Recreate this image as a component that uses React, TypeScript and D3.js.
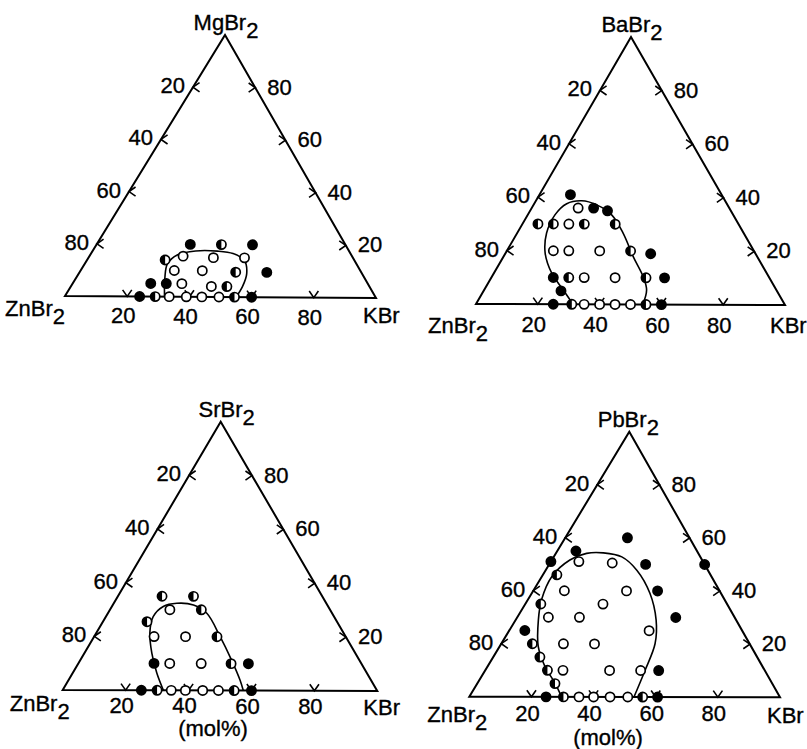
import React from 'react';
import * as d3 from 'd3';

// each point: [KBr mol%, MBr2 mol%, kind]  (ZnBr2 is the rest)
type Kind = 'open' | 'half' | 'filled';
type Pt = [number, number, Kind];
type XY = [number, number];

const tickValues = [20, 40, 60, 80];

const mgPoints: Pt[] = [
  [24, 0, 'filled'], [29, 0, 'half'], [33.5, 0, 'open'], [39, 0, 'open'],
  [44, 0, 'open'], [49.5, 0, 'open'], [54.5, 0, 'half'], [60, 0, 'filled'],
  [25, 5, 'filled'], [30, 5, 'filled'], [35, 5, 'open'], [45, 4, 'open'], [50, 4, 'half'],
  [30, 10, 'open'], [39, 10, 'open'], [50, 9.5, 'half'], [60, 9.5, 'filled'],
  [25, 14, 'half'], [30, 15.5, 'open'], [40, 15, 'open'], [50, 15, 'open'],
  [30, 20, 'filled'], [40, 20, 'half'], [50, 20, 'filled'],
];
const mgBoundary: XY[] = [
  [32, 0], [28.5, 7], [26.5, 12.5], [28, 16], [33, 17.5], [40, 17.5],
  [45.5, 16.6], [50.5, 14], [53.8, 9], [55, 4], [55, 0],
];

const baPoints: Pt[] = [
  [25, 0, 'filled'], [31, 0, 'half'], [35, 0, 'open'], [40, 0, 'open'],
  [45, 0, 'open'], [50, 0, 'open'], [55, 0, 'half'], [60, 0, 'filled'],
  [25, 5, 'filled'],
  [20, 10, 'filled'], [25, 10, 'half'], [30, 10, 'open'], [40, 10, 'open'], [50, 10, 'half'], [56, 10, 'filled'],
  [15, 20, 'open'], [20, 20, 'open'], [30, 20, 'open'], [40, 20, 'half'], [47, 19, 'filled'],
  [5, 30, 'half'], [10, 30, 'half'], [15, 30, 'open'], [20, 30, 'half'], [30, 30, 'half'],
  [15, 36, 'open'], [20, 36, 'filled'], [25, 35, 'filled'],
  [10, 41, 'filled'],
];
const baBoundary: XY[] = [
  [31.4, 0], [25.5, 5.4], [18.6, 11.7], [12.8, 19.1], [9.5, 26.6], [8.8, 33.5],
  [10.5, 37.6], [14.8, 38.7], [20.4, 37.2], [27.1, 33.5], [34.3, 26.6],
  [41.9, 17.9], [48.9, 10.4], [52.5, 5.4], [54, 0],
];

const srPoints: Pt[] = [
  [25, 0, 'filled'], [30, 0, 'half'], [34.5, 0, 'open'], [39, 0, 'open'],
  [44.5, 0, 'open'], [49.5, 0, 'open'], [54.5, 0, 'half'], [60, 0, 'filled'],
  [24, 10, 'filled'], [29, 10, 'open'], [39, 10, 'open'], [48.5, 10, 'half'], [54, 10, 'filled'],
  [19, 20, 'open'], [29, 20, 'open'], [39, 20, 'half'],
  [14, 25.5, 'half'],
  [19, 30, 'open'], [29, 30, 'half'],
  [14, 35, 'half'], [24, 35, 'half'],
];
const srBoundary: XY[] = [
  [32, 0], [26.7, 6.4], [21.4, 13.8], [17, 21.3], [15, 27.4], [16.3, 31.2],
  [20, 32.4], [25.6, 31.8], [31.4, 28.7], [40, 20], [48, 11.3], [54.4, 3.9], [57.4, 0],
];

const pbPoints: Pt[] = [
  [24.7, 0, 'filled'], [30.3, 0, 'half'], [35.3, 0, 'open'], [40, 0, 'open'],
  [45.3, 0, 'open'], [51, 0, 'open'], [55.8, 0, 'half'], [60.6, 0, 'filled'],
  [25, 5, 'half'],
  [20, 10, 'half'], [25, 10, 'open'], [40, 10, 'open'], [50, 10, 'open'], [55.8, 10, 'filled'],
  [15, 15, 'half'],
  [10, 20, 'half'], [20, 20, 'open'], [30, 20, 'open'],
  [5, 25, 'filled'], [45, 25, 'open'],
  [10, 30, 'open'], [20, 30, 'open'], [51, 30, 'filled'],
  [5, 35, 'half'], [25, 35, 'open'],
  [10, 40, 'open'], [30, 40, 'open'], [40, 40, 'filled'],
  [4.5, 46, 'half'],
  [0, 51, 'filled'], [9, 51, 'open'], [20, 50.5, 'open'], [31, 50, 'filled'], [50, 50, 'filled'],
  [6, 55, 'filled'],
  [20, 60, 'filled'],
];
const pbBoundary: XY[] = [
  [29.7, 0], [25, 5.1], [18.5, 11.4], [12.4, 19], [7.3, 29], [4.4, 36.6],
  [3.2, 45.4], [5.8, 51.6], [9.9, 54.1], [15.2, 54.3], [21.9, 52.8], [29.3, 47.8],
  [38, 39.1], [45.2, 29], [49.4, 20.2], [51.4, 10], [53, 0],
];

// panel layout: triangle corners in page pixels and label offsets
const panels = [
  { apex: 'MgBr', points: mgPoints, boundary: mgBoundary,
    zn: [65, 296], kb: [376, 298], ap: [225, 35], apDx: 1,
    znLab: [0, 20], kbLab: [-13, 25], botDy: 27, mol: null as null | number[] },
  { apex: 'BaBr', points: baPoints, boundary: baBoundary,
    zn: [476, 304], kb: [785, 305], ap: [631, 37], apDx: 1,
    znLab: [12, 29], kbLab: [-15, 28], botDy: 28, mol: null },
  { apex: 'SrBr', points: srPoints, boundary: srBoundary,
    zn: [62.7, 690], kb: [377.3, 691], ap: [220.7, 421.7], apDx: 6,
    znLab: [7, 21], kbLab: [-14, 24], botDy: 23, mol: [213, 736] },
  { apex: 'PbBr', points: pbPoints, boundary: pbBoundary,
    zn: [469.3, 696.7], kb: [780, 697.3], ap: [629.3, 431.7], apDx: -1,
    znLab: [18, 25], kbLab: [-13, 26], botDy: 24, mol: [608, 745] },
];

const font = "'Liberation Sans', Arial, sans-serif";
const fs = 22;
const txt = { fontFamily: font, fontSize: fs, fill: '#000', stroke: '#000', strokeWidth: 0.35 };

function Formula({ x, y, base, anchor }: { x: number; y: number; base: string; anchor: string }) {
  return (
    <text x={x} y={y} textAnchor={anchor} {...txt}>
      {base}
      <tspan dy={8}>2</tspan>
    </text>
  );
}

function Panel({ p }: { p: (typeof panels)[number] }) {
  const frac = d3.scaleLinear().domain([0, 100]).range([0, 1]);
  const [zx, zy] = p.zn;
  const [kx, ky] = p.kb;
  const [ax, ay] = p.ap;
  // ternary -> pixel
  const pos = (k: number, m: number): XY => [
    zx + frac(k) * (kx - zx) + frac(m) * (ax - zx),
    zy + frac(k) * (ky - zy) + frac(m) * (ay - zy),
  ];

  const line = d3.line<XY>().x(d => pos(d[0], d[1])[0]).y(d => pos(d[0], d[1])[1])
    .curve(d3.curveCatmullRom.alpha(0.5));
  const r = 4.6;
  const halfDisc = d3.arc()({ innerRadius: 0, outerRadius: r, startAngle: Math.PI, endAngle: 2 * Math.PI } as any) as string;

  const arm = 8;
  const ang = (35 * Math.PI) / 180;
  const chevron = (x: number, y: number, dir: number) => {
    // dir = direction (radians) the arms open toward
    const a1 = dir + ang, a2 = dir - ang;
    return `M${x + arm * Math.cos(a1)},${y + arm * Math.sin(a1)}L${x},${y}L${x + arm * Math.cos(a2)},${y + arm * Math.sin(a2)}`;
  };

  return (
    <g>
      <path d={`M${zx},${zy}L${kx},${ky}L${ax},${ay}Z`} fill="none" stroke="#000" strokeWidth={2} strokeLinejoin="miter" />
      {tickValues.map(v => {
        const [lx, ly] = pos(0, 100 - v);
        const [rx, ry] = pos(100 - v, v);
        const [bx, by] = pos(v, 0);
        return (
          <g key={v}>
            <path d={chevron(lx, ly, 0)} fill="none" stroke="#000" strokeWidth={1.6} />
            <path d={chevron(rx, ry, Math.PI)} fill="none" stroke="#000" strokeWidth={1.6} />
            <path d={chevron(bx, by, -Math.PI / 2)} fill="none" stroke="#000" strokeWidth={1.6} />
            <text x={lx - 8} y={ly + 6} textAnchor="end" {...txt}>{v}</text>
            <text x={rx + 12} y={ry + 7} textAnchor="start" {...txt}>{v}</text>
            <text x={bx - 4} y={by + p.botDy} textAnchor="middle" {...txt}>{v}</text>
          </g>
        );
      })}
      <path d={line(p.boundary) || ''} fill="none" stroke="#000" strokeWidth={1.6} />
      {p.points.map((d, i) => {
        const [x, y] = pos(d[0], d[1]);
        return (
          <g key={i} transform={`translate(${x},${y})`}>
            <circle r={r} fill={d[2] === 'filled' ? '#000' : '#fff'} stroke="#000" strokeWidth={1.7} />
            {d[2] === 'half' && <path d={halfDisc} fill="#000" />}
          </g>
        );
      })}
      <Formula x={ax + p.apDx} y={ay - 5} base={p.apex} anchor="middle" />
      <Formula x={zx + p.znLab[0]} y={zy + p.znLab[1]} base="ZnBr" anchor="end" />
      <text x={kx + p.kbLab[0]} y={ky + p.kbLab[1]} textAnchor="start" {...txt}>KBr</text>
      {p.mol && (
        <text x={p.mol[0]} y={p.mol[1]} textAnchor="middle" {...txt}>(mol%)</text>
      )}
    </g>
  );
}

export default function App() {
  return (
    <svg width={807} height={749} style={{ position: 'absolute', left: 0, top: 0, background: '#fff' }}>
      <rect width={807} height={749} fill="#fff" />
      {panels.map((p, i) => <Panel key={i} p={p} />)}
    </svg>
  );
}
